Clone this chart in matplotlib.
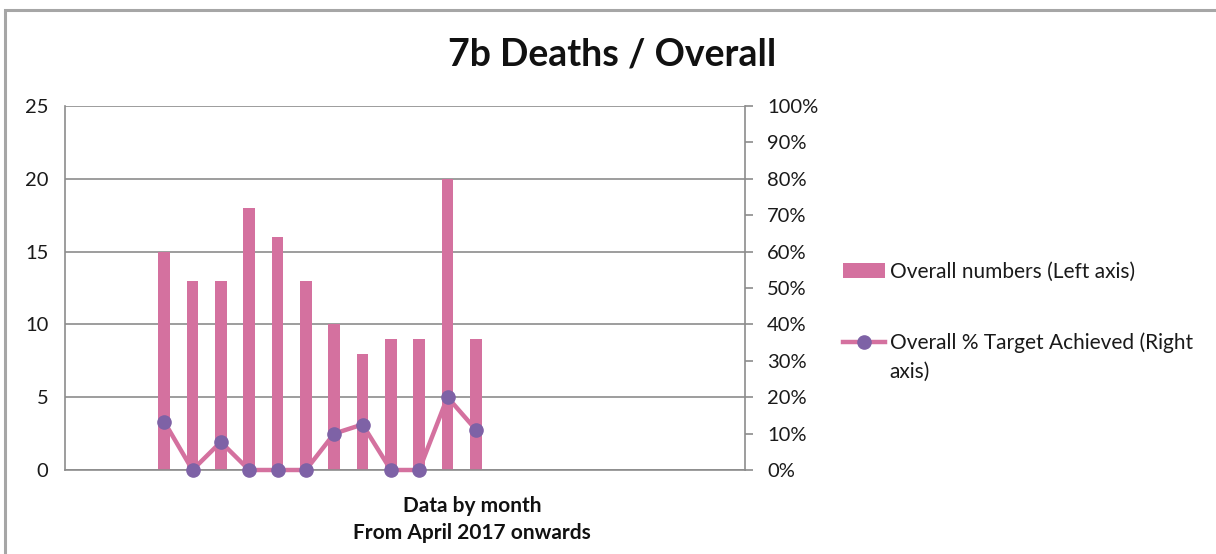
import numpy as np
import matplotlib.pyplot as plt
from matplotlib.patches import Rectangle
from matplotlib.ticker import PercentFormatter

plt.rcParams['font.family'] = ['Lato', 'DejaVu Sans']

# 24 monthly slots on the category axis, data from April 2017
n_slots = 24
start_slot = 3
deaths = [15, 13, 13, 18, 16, 13, 10, 8, 9, 9, 20, 9]
pct_achieved = [13.3, 0, 7.7, 0, 0, 0, 10, 12.5, 0, 0, 20, 11.1]

bar_col = '#D4719F'
dot_col = '#7E62A6'
grid_col = '#8C8C8C'

fig = plt.figure(figsize=(12.16, 5.54), dpi=100)
fig.patches.append(Rectangle((5 / 1216, -0.1), 1.2, (554 - 10) / 554 + 0.1,
                             transform=fig.transFigure, fill=False,
                             edgecolor='#A6A6A6', linewidth=2.2))

ax = fig.add_axes([65 / 1216, 84 / 554, 680 / 1216, 364 / 554])
ax2 = ax.twinx()

x = np.arange(start_slot, start_slot + len(deaths))
bars = ax.bar(x, deaths, width=0.42, color=bar_col, zorder=2,
              label='Overall numbers (Left axis)')
ax.set_xlim(-0.5, n_slots - 0.5)
ax.set_ylim(0, 25)
ax.set_yticks(range(0, 26, 5))
ax.set_xticks([])
ax.grid(axis='y', color=grid_col, linewidth=1.2, zorder=0)
for s in ['top', 'right']:
    ax.spines[s].set_visible(False)
ax.spines['left'].set_color(grid_col)
ax.spines['bottom'].set_color(grid_col)
ax.spines['left'].set_linewidth(1.2)
ax.spines['bottom'].set_linewidth(1.2)
ax.tick_params(axis='y', length=0, labelsize=14.5, pad=12, colors='#1a1a1a')

line, = ax2.plot(x, pct_achieved, color=bar_col, linewidth=3.2,
                 marker='o', markersize=9.5, markerfacecolor=dot_col,
                 markeredgecolor=dot_col, clip_on=False, zorder=3,
                 label='Overall % Target Achieved (Right')
ax2.set_ylim(0, 100)
ax2.set_yticks(range(0, 101, 10))
ax2.yaxis.set_major_formatter(PercentFormatter(decimals=0))
for s in ['top', 'left', 'bottom']:
    ax2.spines[s].set_visible(False)
ax2.spines['right'].set_color(grid_col)
ax2.spines['right'].set_linewidth(1.2)
ax2.tick_params(axis='y', length=6, width=1.2, color=grid_col,
                labelsize=14.5, pad=10, labelcolor='#1a1a1a')

fig.text(612 / 1216, 1 - 55 / 554, '7b Deaths / Overall', ha='center',
         va='center', fontsize=27, fontweight='bold', color='#111111')
fig.text(472 / 1216, 1 - 506 / 554, 'Data by month', ha='center',
         va='center', fontsize=15, fontweight='bold', color='#111111')
fig.text(472 / 1216, 1 - 533 / 554, 'From April 2017 onwards', ha='center',
         va='center', fontsize=15, fontweight='bold', color='#111111')

leg = fig.legend(handles=[bars, line], loc='upper left',
                 bbox_to_anchor=(824 / 1216, 1 - 243 / 554),
                 frameon=False, fontsize=15, labelspacing=2.45,
                 handlelength=2.05, handletextpad=0.2)
for t in leg.get_texts():
    t.set_color('#1a1a1a')

# wrap the second legend entry onto a second line
fig.canvas.draw()
bb = leg.get_texts()[1].get_window_extent()
fig.text(bb.x0 / 1216, (bb.y0 - 28) / 554, 'axis)', fontsize=15,
         color='#1a1a1a', va='bottom')

fig.savefig('out.png', dpi=100)
